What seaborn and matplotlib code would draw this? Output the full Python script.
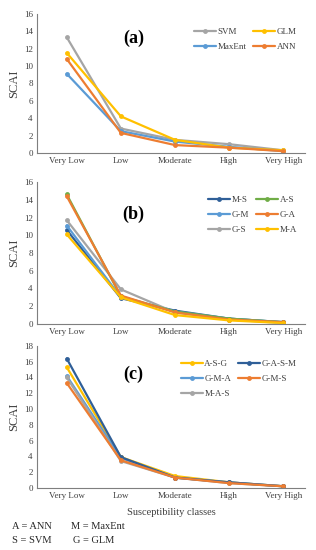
import matplotlib
matplotlib.use("Agg")
import matplotlib.pyplot as plt
import seaborn as sns
import pandas as pd

sns.set_style("white")
plt.rcParams['font.family'] = ['Liberation Serif', 'DejaVu Serif']

classes = ["Very Low", "Low", "Moderate", "High", "Very High"]

# Panel (a)
a_names = ["SVM", "MaxEnt", "GLM", "ANN"]
a_svm = [13.3, 2.8, 1.5, 1.0, 0.3]
a_maxent = [9.1, 2.5, 1.3, 0.7, 0.2]
a_glm = [11.5, 4.2, 1.5, 0.6, 0.3]
a_ann = [10.8, 2.3, 0.9, 0.6, 0.2]

# Panel (b)
b_names = ["M-S", "G-M", "G-S", "A-S", "G-A", "M-A"]
b_ms = [10.6, 2.9, 1.5, 0.6, 0.2]
b_gm = [11.1, 3.0, 1.4, 0.6, 0.2]
b_gs = [11.7, 3.9, 1.3, 0.5, 0.1]
b_as = [14.6, 3.1, 1.4, 0.6, 0.2]
b_ga = [14.4, 3.2, 1.3, 0.5, 0.2]
b_ma = [10.1, 3.0, 1.0, 0.4, 0.1]

# Panel (c)
c_names = ["A-S-G", "G-M-A", "M-A-S", "G-A-S-M", "G-M-S"]
c_asg = [15.3, 3.9, 1.5, 0.7, 0.2]
c_gma = [14.2, 3.8, 1.3, 0.7, 0.2]
c_mas = [14.0, 3.4, 1.3, 0.6, 0.2]
c_gasm = [16.4, 3.9, 1.3, 0.7, 0.2]
c_gms = [13.3, 3.5, 1.3, 0.6, 0.2]

GRAY, GOLD, BLUE, ORANGE, DBLUE, GREEN = "#A5A5A5", "#FFC000", "#5B9BD5", "#ED7D31", "#2F5F98", "#70AD47"

panels = [
    ("(a)", a_names, [a_svm, a_maxent, a_glm, a_ann], [GRAY, BLUE, GOLD, ORANGE], 16,
     [0.117, 0.722, 0.848, 0.253], 0.82),
    ("(b)", b_names, [b_ms, b_gm, b_gs, b_as, b_ga, b_ma], [DBLUE, BLUE, GRAY, GREEN, ORANGE, GOLD], 16,
     [0.117, 0.411, 0.848, 0.258], 0.77),
    ("(c)", c_names, [c_asg, c_gma, c_mas, c_gasm, c_gms], [GOLD, BLUE, GRAY, DBLUE, ORANGE], 18,
     [0.117, 0.113, 0.848, 0.258], 0.80),
]

fig = plt.figure(figsize=(3.16, 5.5), dpi=100)

for label, names, series, colors, ymax, rect, ly in panels:
    ax = fig.add_axes(rect)
    rows = []
    for n, vals in zip(names, series):
        for c, v in zip(classes, vals):
            rows.append({"class": c, "model": n, "SCAI": v})
    df = pd.DataFrame(rows)
    sns.lineplot(data=df, x="class", y="SCAI", hue="model", hue_order=names,
                 palette=dict(zip(names, colors)), marker="o", markersize=3.5,
                 markeredgewidth=0, linewidth=1.6, sort=False, ax=ax)
    ax.set_ylim(0, ymax)
    ax.set_yticks(range(0, ymax + 1, 2))
    ax.set_xlim(-0.55, 4.4)
    for s in ["top", "right"]:
        ax.spines[s].set_visible(False)
    for s in ["left", "bottom"]:
        ax.spines[s].set_color("#7F7F7F")
        ax.spines[s].set_linewidth(0.8)
    ax.tick_params(axis="both", labelsize=6.5, colors="#404040", length=0, pad=3)
    ax.set_ylabel("SCAI", fontsize=9, color="#404040", labelpad=3)
    ax.set_xlabel("")
    ax.text(0.36, ly, label, transform=ax.transAxes, fontsize=13, fontweight="bold",
            ha="center", va="center", color="black")
    leg = ax.legend(loc="upper right", bbox_to_anchor=(1.0, 0.96), ncol=2, frameon=False,
                    fontsize=6.5, handlelength=2.4, handletextpad=0.2, columnspacing=0.8,
                    labelspacing=0.75, labelcolor="#404040")

ax.set_xlabel("Susceptibility classes", fontsize=7.5, color="#404040", labelpad=6)

fig.text(0.038, 0.038, "A = ANN", fontsize=7.5)
fig.text(0.038, 0.013, "S = SVM", fontsize=7.5)
fig.text(0.225, 0.038, "M = MaxEnt", fontsize=7.5)
fig.text(0.232, 0.013, "G = GLM", fontsize=7.5)

fig.savefig("out.png", dpi=100)
